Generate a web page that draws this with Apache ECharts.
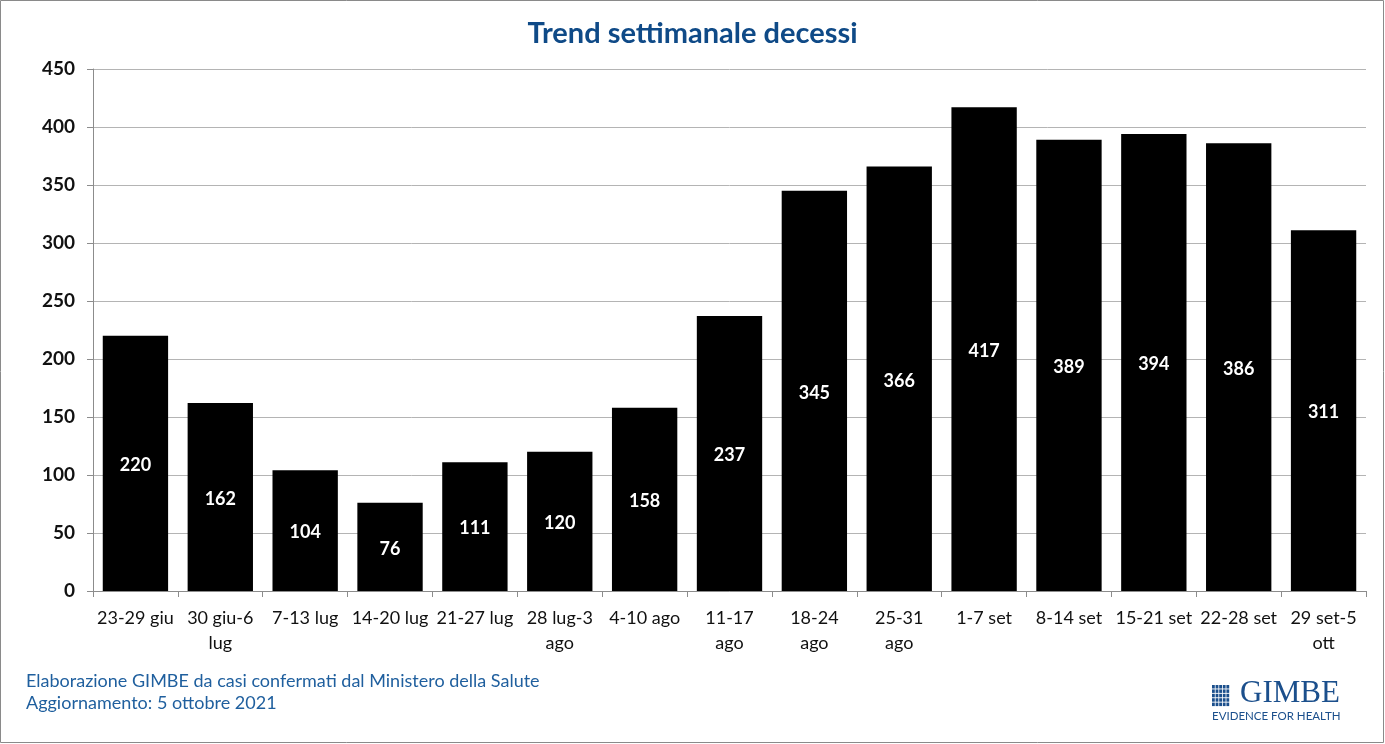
<!DOCTYPE html>
<html><head><meta charset="utf-8">
<script src="https://cdn.jsdelivr.net/npm/echarts@6/dist/echarts.min.js"></script>
<style>html,body{margin:0;padding:0;background:#fff}#c{width:1385px;height:744px}</style>
</head><body><div id="c"></div>
<script>
const categories = ['23-29 giu','30 giu-6\nlug','7-13 lug','14-20 lug','21-27 lug','28 lug-3\nago','4-10 ago','11-17\nago','18-24\nago','25-31\nago','1-7 set','8-14 set','15-21 set','22-28 set','29 set-5\nott'];
const decessi = [220,162,104,76,111,120,158,237,345,366,417,389,394,386,311];
const yTicks = [0,50,100,150,200,250,300,350,400,450];

const FONT = 'Lato, "Open Sans", sans-serif';
const chart = echarts.init(document.getElementById('c'));
const logoGrid = [];
for (let r = 0; r < 5; r++) for (let c = 0; c < 5; c++) {
  logoGrid.push({type:'rect', shape:{x:1212 + c*3.6, y:685 + r*4.4, width:2.8, height:3.5}, style:{fill:'#1b4f8c'}});
}
chart.setOption({
  animation:false,
  title:{text:'Trend settimanale decessi', left:'center', top:14,
    textStyle:{fontFamily:FONT, fontSize:29, fontWeight:'bold', color:'#0f4a87'}},
  grid:{left:93, right:19, top:69, bottom:153, containLabel:false},
  xAxis:{type:'category', data:categories, boundaryGap:true,
    axisLine:{lineStyle:{color:'#8c8c8c'}},
    axisTick:{show:true, alignWithLabel:false, length:6, lineStyle:{color:'#8c8c8c'}},
    axisLabel:{fontFamily:FONT, fontSize:18, color:'#111', margin:15, lineHeight:25, interval:0}},
  yAxis:{type:'value', min:0, max:450, interval:50,
    axisLine:{show:true, lineStyle:{color:'#8c8c8c'}},
    axisTick:{show:true, length:6, lineStyle:{color:'#8c8c8c'}},
    splitLine:{lineStyle:{color:'#b4b4b4'}},
    axisLabel:{fontFamily:FONT, fontSize:19, fontWeight:'bold', color:'#111', margin:18,
      formatter:v => yTicks.includes(v) ? String(v) : ''}},
  series:[{type:'bar', data:decessi, barCategoryGap:'23%',
    itemStyle:{color:'#000'},
    label:{show:true, position:'inside', color:'#fff', fontFamily:FONT, fontSize:18, fontWeight:'bold', offset:[0,2]}}],
  graphic:[
    {type:'rect', shape:{x:0.5, y:0.5, width:1383, height:742}, style:{fill:'none', stroke:'#8a8a8a', lineWidth:1}},
    {type:'text', left:26, top:672, style:{text:'Elaborazione GIMBE da casi confermati dal Ministero della Salute', font:'18px '+FONT, fill:'#1f5f9e'}},
    {type:'text', left:26, top:694, style:{text:'Aggiornamento: 5 ottobre 2021', font:'18px '+FONT, fill:'#1f5f9e'}},
    ...logoGrid,
    {type:'text', left:1240, top:678, style:{text:'GIMBE', font:'31px "Liberation Serif", "DejaVu Serif", serif', fill:'#1b4f8c'}},
    {type:'text', left:1212, top:710, style:{text:'EVIDENCE FOR HEALTH', font:'11.5px '+FONT, fill:'#1b4f8c'}}
  ]
});
</script></body></html>
